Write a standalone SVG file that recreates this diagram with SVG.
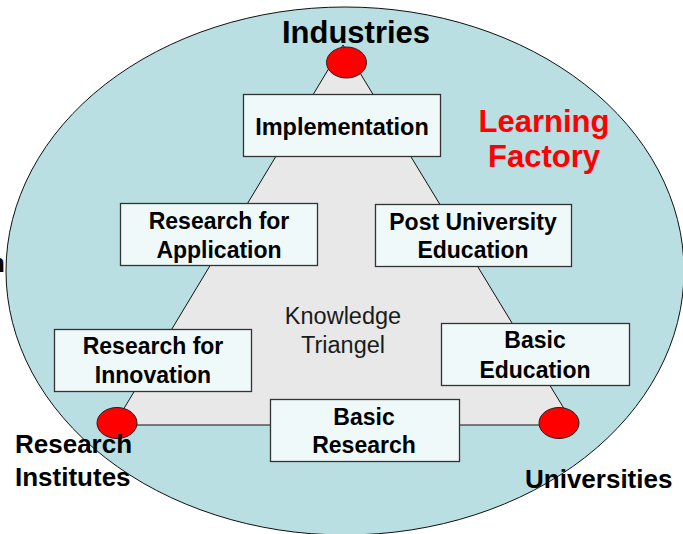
<svg xmlns="http://www.w3.org/2000/svg" width="683" height="534" viewBox="0 0 683 534">
<style>
.box{fill:#f0f9f9;stroke:#333;stroke-width:1.3}
.dot{fill:#ff0000;stroke:#222;stroke-width:1}
.t{font-family:"Liberation Sans",Arial,sans-serif;font-weight:bold;fill:#000}
.bt{font-size:23px;text-anchor:middle}
.big{font-size:26px}
.kt{font-family:"Liberation Sans",Arial,sans-serif;font-size:23.5px;text-anchor:middle;fill:#1a1a1a}
</style>
<rect width="683" height="534" fill="#ffffff"/>
<g id="learning-factory">
<ellipse cx="345" cy="271" rx="339" ry="264" fill="#b9dfe2" stroke="#111" stroke-width="1"/>
<text class="t" x="544" y="132" font-size="31" style="fill:#ff0000" text-anchor="middle">Learning</text>
<text class="t" x="544" y="167" font-size="31" style="fill:#ff0000" text-anchor="middle">Factory</text>
</g>
<g id="connectors">
<polygon points="343,45 114,425 574,425" fill="#e8e8e8" stroke="#111" stroke-width="1"/>
</g>
<text class="t" x="5" y="272" font-size="26" text-anchor="end">n</text>
<g id="knowledge-triangel">
<text class="kt" x="343" y="324">Knowledge</text>
<text class="kt" x="343" y="353">Triangel</text>
</g>
<g id="implementation">
<rect class="box" x="243.5" y="94.5" width="197" height="62"/>
<text class="t bt" x="342" y="135" style="font-size:23.5px">Implementation</text>
</g>
<g id="research-for-application">
<rect class="box" x="120.5" y="203.5" width="197" height="62"/>
<text class="t bt" x="219" y="229">Research for</text>
<text class="t bt" x="219" y="258">Application</text>
</g>
<g id="post-university-education">
<rect class="box" x="375.5" y="204.5" width="196" height="62"/>
<text class="t bt" x="473" y="230">Post University</text>
<text class="t bt" x="473" y="258">Education</text>
</g>
<g id="research-for-innovation">
<rect class="box" x="54.5" y="329.5" width="197" height="62"/>
<text class="t bt" x="153" y="354">Research for</text>
<text class="t bt" x="153" y="383">Innovation</text>
</g>
<g id="basic-education">
<rect class="box" x="441.5" y="323.5" width="188" height="62"/>
<text class="t bt" x="535" y="348">Basic</text>
<text class="t bt" x="535" y="378">Education</text>
</g>
<g id="basic-research">
<rect class="box" x="270.5" y="399.5" width="189" height="62"/>
<text class="t bt" x="364" y="425">Basic</text>
<text class="t bt" x="364" y="453">Research</text>
</g>
<g id="industries">
<ellipse class="dot" cx="346.5" cy="62.5" rx="20" ry="15.5"/>
<text class="t" x="356" y="43" font-size="31" text-anchor="middle">Industries</text>
</g>
<g id="research-institutes">
<ellipse class="dot" cx="117" cy="423" rx="20" ry="15.5"/>
<text class="t big" x="15" y="453">Research</text>
<text class="t big" x="15" y="486">Institutes</text>
</g>
<g id="universities">
<ellipse class="dot" cx="559" cy="423" rx="20" ry="15.5"/>
<text class="t big" x="525" y="488">Universities</text>
</g>
</svg>
